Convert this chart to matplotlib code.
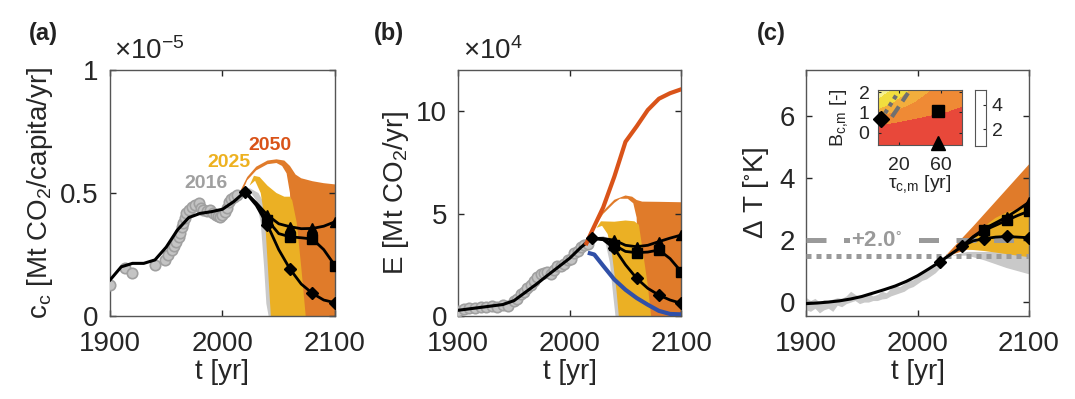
import matplotlib.pyplot as plt
import numpy as np

plt.rcParams['font.family'] = ['Liberation Sans', 'DejaVu Sans']
plt.rcParams['mathtext.default'] = 'regular'

# ---------------- data ----------------
# (a) per-capita emissions, in units of 1e-5 Mt CO2/capita/yr
obs_years_a = [1900, 1913, 1920, 1940, 1949, 1952, 1955, 1957, 1959, 1961, 1962, 1964, 1965, 1967,
               1968, 1970, 1973, 1976, 1979, 1981, 1983, 1986, 1989, 1992, 1994, 1996, 1998, 2000,
               2002, 2004, 2006, 2008, 2010, 2013]
obs_cc = [0.126, 0.194, 0.176, 0.207, 0.228, 0.246, 0.268, 0.285, 0.302, 0.32, 0.336, 0.36, 0.377, 0.40,
          0.417, 0.43, 0.444, 0.45, 0.458, 0.44, 0.431, 0.425, 0.431, 0.42, 0.41, 0.405, 0.404, 0.41,
          0.424, 0.44, 0.465, 0.475, 0.485, 0.49]
fit_years = [1900, 1910, 1920, 1930, 1940, 1950, 1960, 1970, 1980, 1990, 2000, 2010, 2020]
fit_cc = [0.146, 0.20, 0.214, 0.214, 0.228, 0.28, 0.35, 0.40, 0.417, 0.424, 0.434, 0.465, 0.505]

proj_years = [2020, 2030, 2040, 2050, 2060, 2070, 2080, 2090, 2100]
cc_tri = [0.505, 0.46, 0.41, 0.375, 0.363, 0.355, 0.356, 0.365, 0.383]
cc_sq = [0.505, 0.455, 0.39, 0.335, 0.322, 0.318, 0.313, 0.27, 0.205]
cc_dia = [0.505, 0.45, 0.37, 0.27, 0.191, 0.13, 0.092, 0.065, 0.054]

# scenario fans (outline of the bundle of trajectories)
fan_a_2016_x = [2016, 2024, 2030, 2034, 2037, 2039, 2041, 2047, 2045, 2042, 2038, 2032, 2024]
fan_a_2016_y = [0.49, 0.51, 0.47, 0.38, 0.2, 0.05, 0, 0, 0.15, 0.35, 0.45, 0.5, 0.52]
fan_a_2025_x = [2024, 2028, 2033, 2040, 2048, 2055, 2060, 2062, 2066, 2070, 2074, 2043, 2041, 2038, 2034, 2029]
fan_a_2025_y = [0.53, 0.57, 0.565, 0.53, 0.50, 0.485, 0.485, 0.47, 0.38, 0.2, 0, 0, 0.15, 0.38, 0.5, 0.55]
fan_a_2050_x = [2016, 2022, 2030, 2040, 2048, 2055, 2060, 2065, 2070, 2080, 2090, 2100, 2100, 2063,
                2062, 2060, 2057, 2053, 2048, 2040, 2030, 2022, 2018]
fan_a_2050_y = [0.51, 0.565, 0.607, 0.632, 0.637, 0.632, 0.61, 0.575, 0.56, 0.548, 0.54, 0.535, 0, 0,
                0.3, 0.5, 0.58, 0.61, 0.622, 0.617, 0.592, 0.552, 0.51]

# (b) emissions, units of 1e4 Mt CO2/yr
obs_years_b = [1900, 1905, 1910, 1915, 1920, 1925, 1930, 1935, 1940, 1945, 1950, 1953, 1956, 1959, 1962,
               1965, 1968, 1971, 1974, 1977, 1980, 1983, 1986, 1989, 1992, 1995, 1998, 2001, 2004,
               2007, 2010, 2013, 2016]
obs_E = [0.25, 0.32, 0.38, 0.40, 0.43, 0.45, 0.50, 0.45, 0.55, 0.50, 0.72, 0.85, 1.05, 1.15, 1.35,
         1.50, 1.70, 1.90, 2.05, 2.10, 2.15, 2.05, 2.25, 2.45, 2.45, 2.55, 2.75, 2.80, 3.05,
         3.15, 3.35, 3.45, 3.5]
fit_E = [0.28, 0.35, 0.42, 0.49, 0.56, 0.75, 1.15, 1.55, 1.98, 2.4, 2.82, 3.35, 3.79]
E_tri = [3.79, 3.78, 3.70, 3.45, 3.38, 3.45, 3.63, 3.80, 3.95]
E_sq = [3.79, 3.75, 3.46, 3.15, 3.09, 3.12, 3.22, 2.80, 2.16]
E_dia = [3.79, 3.72, 3.30, 2.50, 1.84, 1.35, 1.02, 0.78, 0.62]
bau_years = [2015, 2020, 2030, 2040, 2050, 2060, 2070, 2080, 2090, 2100]
E_bau = [3.55, 4.15, 5.3, 6.8, 8.5, 9.25, 10.05, 10.6, 10.87, 11.06]
low_years = [2018, 2022, 2030, 2040, 2050, 2060, 2070, 2080, 2090, 2100]
E_low = [3.06, 3.0, 2.45, 1.78, 1.28, 0.88, 0.55, 0.25, 0.1, 0.08]

fan_b_2016_x = [2015, 2025, 2032, 2036, 2039, 2041, 2048, 2046, 2043, 2038, 2030, 2020]
fan_b_2016_y = [3.5, 3.85, 3.6, 2.6, 1.0, 0, 0, 1.2, 2.8, 3.7, 3.9, 3.8]
fan_b_2025_x = [2024, 2028, 2040, 2050, 2058, 2062, 2066, 2070, 2073, 2044, 2042, 2038, 2034, 2029]
fan_b_2025_y = [4.3, 4.62, 4.6, 4.66, 4.62, 4.45, 3.0, 1.5, 0, 0, 1.2, 3.0, 4.0, 4.4]
fan_b_2050_x = [2020, 2025, 2030, 2040, 2050, 2056, 2060, 2065, 2080, 2100, 2100, 2063, 2062, 2060,
                2057, 2052, 2045, 2040, 2030, 2025, 2021]
fan_b_2050_y = [4.2, 4.7, 5.12, 5.67, 5.88, 5.82, 5.66, 5.58, 5.57, 5.55, 0, 0, 2.0, 4.8,
                5.5, 5.72, 5.72, 5.52, 4.98, 4.55, 4.15]

# (c) temperature anomaly [K]
obs_years_c = [1900, 1904, 1908, 1912, 1916, 1920, 1924, 1928, 1932, 1936, 1940, 1944, 1948, 1952, 1956,
               1960, 1964, 1968, 1972, 1976, 1980, 1984, 1988, 1992, 1996, 2000, 2004, 2008, 2012,
               2016, 2020]
T_upper = [0.15, 0.05, 0.12, 0.0, 0.08, 0.05, 0.1, 0.14, 0.12, 0.2, 0.35, 0.25, 0.18, 0.22, 0.3,
           0.2, 0.25, 0.35, 0.3, 0.45, 0.55, 0.5, 0.6, 0.7, 0.72, 0.85, 0.95, 1.0, 1.1, 1.25, 1.35]
T_lower = [-0.25, -0.3, -0.2, -0.35, -0.25, -0.2, -0.3, -0.1, -0.15, -0.05, 0.0, 0.05, -0.05, 0.0, 0.0,
           0.05, 0.05, 0.1, 0.12, 0.2, 0.25, 0.3, 0.35, 0.45, 0.5, 0.6, 0.7, 0.75, 0.85, 0.95, 1.1]
fit_T_years = [1900, 1910, 1920, 1930, 1940, 1950, 1960, 1970, 1980, 1990, 2000, 2010, 2020, 2030, 2040]
fit_T = [-0.05, -0.03, 0.0, 0.04, 0.10, 0.18, 0.29, 0.40, 0.52, 0.67, 0.85, 1.07, 1.30, 1.55, 1.80]
T_years = [2040, 2050, 2060, 2070, 2080, 2090, 2100]
T_tri = [1.80, 2.12, 2.37, 2.56, 2.75, 2.98, 3.23]
T_sq = [1.80, 2.10, 2.32, 2.48, 2.64, 2.80, 2.94]
T_dia = [1.80, 1.98, 2.05, 2.10, 2.12, 2.10, 2.08]

fan_c_2016_x = [2030, 2045, 2060, 2100, 2100, 2080, 2060, 2045, 2035]
fan_c_2016_y = [1.5, 1.62, 1.62, 1.6, 0.9, 1.1, 1.35, 1.5, 1.5]
fan_c_2050_x = [2024, 2050, 2075, 2100, 2100, 2060, 2045]
fan_c_2050_y = [1.45, 2.45, 3.45, 4.45, 1.7, 1.7, 1.7]
fan_c_2025_x = [2040, 2050, 2060, 2070, 2080, 2100, 2100, 2080, 2060, 2045]
fan_c_2025_y = [1.75, 2.1, 2.45, 2.72, 2.9, 3.1, 1.45, 1.55, 1.65, 1.7]
limit_2 = 2.0
limit_15 = 1.5

# inset: warming in 2100 vs tau_c,m and B_c,m
tau_grid = [0, 20, 40, 60, 80]
B_grid = [-0.6, 0, 0.5, 1.0, 1.5, 2.1]
dT_grid = [[4.5, 4.5, 4.5, 4.5, 4.5],
           [3.8, 3.9, 4.0, 4.1, 4.2],
           [3.3, 3.5, 3.7, 3.8, 3.9],
           [2.4, 2.9, 3.2, 3.45, 3.6],
           [1.9, 2.4, 2.9, 3.2, 3.4],
           [1.4, 2.0, 2.5, 3.0, 3.3]]
dT_levels = [0, 1.8, 2.3, 2.8, 3.5, 6]
dT_colors = ['#F6F190', '#F2DE3E', '#F3AE3C', '#EF8A35', '#E8483A']
dotted_tau, dotted_B = [6.7, 19.4], [0.96, 2.0]
dashed_tau, dashed_B = [13.3, 28.6], [0.78, 1.95]
sel_tau = [3, 57, 57]
sel_B = [0.7, 1.05, -0.5]

# ---------------- styling ----------------
c_gray, c_yel, c_org, c_red = '#C9C9C9', '#EBB024', '#E07B2A', '#D95319'
c_blue = '#3050A8'
tick_c = '#262626'
fs = 20
fs_in = 14

fig = plt.figure(figsize=(10.75, 3.99), dpi=100)


def style(ax, xt, yt):
    ax.set_xlim(1900, 2100)
    ax.set_xticks(xt)
    ax.set_yticks(yt)
    ax.tick_params(direction='in', top=True, right=True, length=4, width=1,
                   labelsize=fs, colors=tick_c, pad=8)
    ax.tick_params(axis='x', pad=11)
    for s in ax.spines.values():
        s.set_color('#555555')
        s.set_linewidth(1)
    ax.set_xlabel('t [yr]', fontsize=fs, color=tick_c, labelpad=1)


def proj_lines(ax, x, tri, sq, dia, first=2):
    # markers every 20 years; only the diamond is shown at the shared start point
    kw = dict(color='k', lw=2, markersize=7.5, zorder=6)
    ax.plot(x, tri, marker='^', markevery=slice(first, None, 2), **kw)
    ax.plot(x, sq, marker='s', markevery=slice(first, None, 2), **kw)
    ax.plot(x, dia, marker='D', markevery=slice(0, None, 2), **{**kw, 'markersize': 6.5})


# ---- (a) ----
axa = fig.add_axes([0.1023, 0.208, 0.2093, 0.6165])
axa.fill(fan_a_2016_x, fan_a_2016_y, color=c_gray, lw=0)
axa.fill(fan_a_2050_x, fan_a_2050_y, color=c_org, lw=0)
axa.fill(fan_a_2025_x, fan_a_2025_y, color=c_yel, lw=0)
axa.plot(obs_years_a, obs_cc, 'o', ms=7.5, mfc='#C4C4C4', mec='#A0A0A0', mew=1.2, zorder=4)
axa.plot(fit_years, fit_cc, color='k', lw=2.2, zorder=5)
proj_lines(axa, proj_years, cc_tri, cc_sq, cc_dia)
axa.text(1985, 0.537, '2016', color='#A0A0A0', fontsize=14, fontweight='bold', ha='center', va='center')
axa.text(2006, 0.625, '2025', color='#EDB120', fontsize=14, fontweight='bold', ha='center', va='center')
axa.text(2042, 0.694, '2050', color=c_red, fontsize=14, fontweight='bold', ha='center', va='center')
axa.set_ylim(0, 1)
style(axa, [1900, 2000, 2100], [0, 0.5, 1])
axa.set_yticklabels(['0', '0.5', '1'])
axa.set_ylabel('c$_c$ [Mt CO$_2$/capita/yr]', fontsize=fs, color=tick_c, labelpad=4)
axa.text(0.02, 1.02, r'$\times$10$^{-5}$', transform=axa.transAxes, fontsize=fs, color=tick_c,
         ha='left', va='bottom')
fig.text(0.027, 0.9, '(a)', fontsize=17, fontweight='bold', color='#222222')

# ---- (b) ----
axb = fig.add_axes([0.4263, 0.208, 0.2074, 0.6165])
axb.fill(fan_b_2016_x, fan_b_2016_y, color=c_gray, lw=0)
axb.fill(fan_b_2050_x, fan_b_2050_y, color=c_org, lw=0)
axb.fill(fan_b_2025_x, fan_b_2025_y, color=c_yel, lw=0)
axb.plot(obs_years_b, obs_E, 'o', ms=7.5, mfc='#C4C4C4', mec='#A0A0A0', mew=1.2, zorder=4)
axb.plot(fit_years, fit_E, color='k', lw=2.2, zorder=5)
axb.plot(bau_years, E_bau, color=c_red, lw=3, zorder=5)
axb.plot(low_years, E_low, color=c_blue, lw=3, zorder=5)
proj_lines(axb, proj_years, E_tri, E_sq, E_dia)
axb.set_ylim(0, 12)
style(axb, [1900, 2000, 2100], [0, 5, 10])
axb.set_ylabel('E [Mt CO$_2$/yr]', fontsize=fs, color=tick_c, labelpad=4)
axb.text(0.02, 1.02, r'$\times$10$^{4}$', transform=axb.transAxes, fontsize=fs, color=tick_c,
         ha='left', va='bottom')
fig.text(0.348, 0.9, '(b)', fontsize=17, fontweight='bold', color='#222222')

# ---- (c) ----
axc = fig.add_axes([0.7498, 0.208, 0.2074, 0.6165])
axc.fill_between(obs_years_c, T_lower, T_upper, color=c_gray, lw=0)
axc.fill(fan_c_2016_x, fan_c_2016_y, color=c_gray, lw=0)
axc.fill(fan_c_2050_x, fan_c_2050_y, color=c_org, lw=0)
axc.fill(fan_c_2025_x, fan_c_2025_y, color=c_yel, lw=0)
axc.axhline(limit_2, color='#9A9A9A', lw=3.6, dashes=(4, 3.5), zorder=3)
axc.axhline(limit_15, color='#9A9A9A', lw=3.6, dashes=(1, 1), zorder=3)
axc.text(1940, limit_2, r'+2.0$^{\circ}$', color='#9A9A9A', fontsize=16, fontweight='bold',
         ha='left', va='center', zorder=4, bbox=dict(fc='white', ec='none', pad=0.5))
axc.plot(fit_T_years, fit_T, color='k', lw=2.2, zorder=5)
axc.plot(fit_T_years[12], fit_T[12], 'D', color='k', ms=6.5, zorder=6)
proj_lines(axc, T_years, T_tri, T_sq, T_dia)
axc.set_ylim(-0.45, 7.5)
style(axc, [1900, 2000, 2100], [0, 2, 4, 6])
axc.set_ylabel(r'$\Delta$ T [$^{\circ}$K]', fontsize=fs, color=tick_c, labelpad=6)
fig.text(0.704, 0.9, '(c)', fontsize=17, fontweight='bold', color='#222222')

# ---- inset ----
axi = fig.add_axes([0.8167, 0.6366, 0.0781, 0.1378])
axi.contourf(tau_grid, B_grid, dT_grid, levels=dT_levels, colors=dT_colors)
axi.plot(dotted_tau, dotted_B, color='#707070', lw=3, dashes=(1, 1))
axi.plot(dashed_tau, dashed_B, color='#707070', lw=3, dashes=(3, 1.5))
axi.plot(sel_tau[0], sel_B[0], 'D', color='k', ms=8, clip_on=False, zorder=5)
axi.plot(sel_tau[1], sel_B[1], 's', color='k', ms=9, clip_on=False, zorder=5)
axi.plot(sel_tau[2], sel_B[2], '^', color='k', ms=10, clip_on=False, zorder=5)
axi.set_xlim(0, 80)
axi.set_ylim(-0.6, 2.1)
axi.set_xticks([20, 60])
axi.set_yticks([0, 1, 2])
axi.tick_params(direction='in', top=True, right=True, length=2, labelsize=fs_in, colors=tick_c, pad=6)
axi.tick_params(axis='x', pad=9)
for s in axi.spines.values():
    s.set_color('#555555')
axi.set_xlabel(r'$\tau_{c{,}m}$ [yr]', fontsize=fs_in, color=tick_c, labelpad=-1)
axi.set_ylabel('B$_{c{,}m}$ [-]', fontsize=fs_in, color=tick_c, labelpad=6)

axcb = fig.add_axes([0.907, 0.634, 0.0102, 0.140])
axcb.set_xticks([])
axcb.set_ylim(0.6, 5.2)
axcb.set_yticks([2, 4])
axcb.yaxis.tick_right()
axcb.tick_params(direction='in', length=2, labelsize=fs_in, colors=tick_c, pad=4)
for s in axcb.spines.values():
    s.set_color('#555555')

fig.savefig('out.png', dpi=100)
